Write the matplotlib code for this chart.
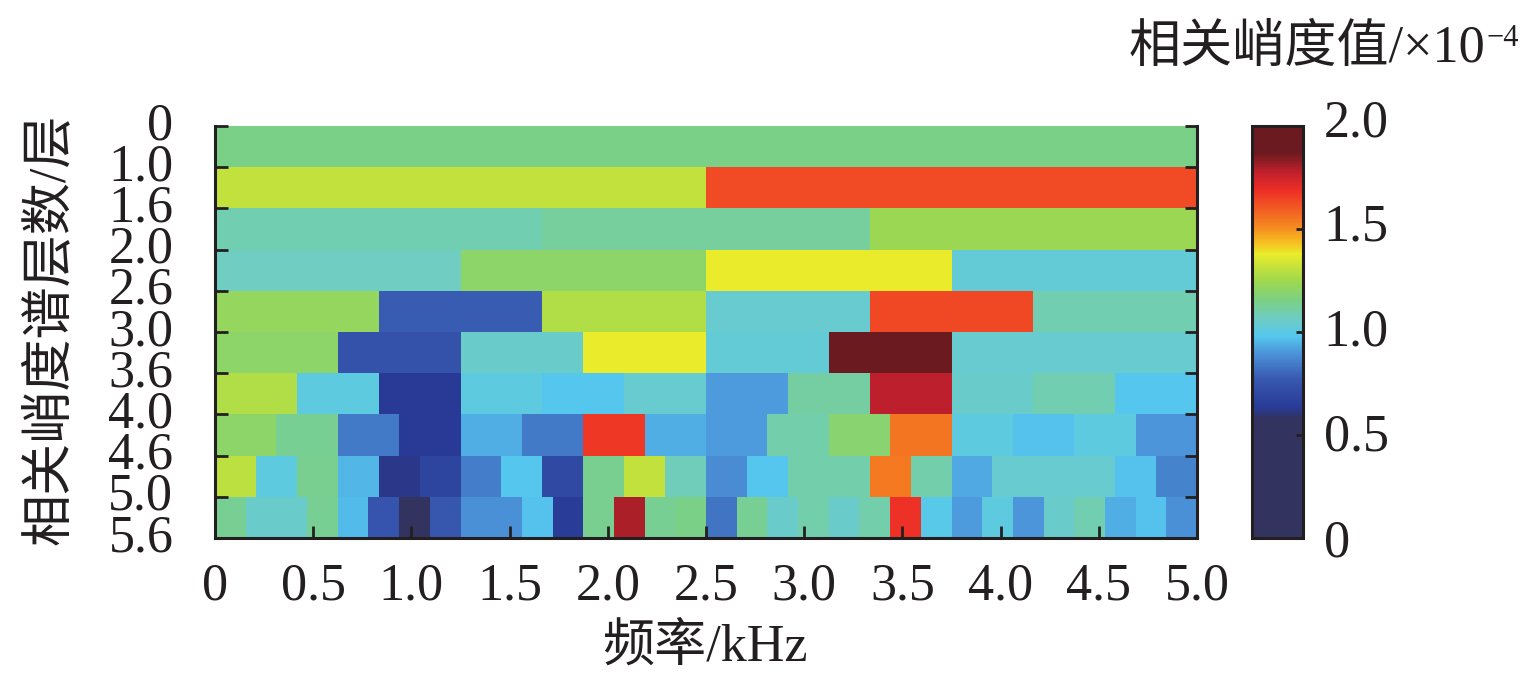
"""Kurtogram (相关峭度谱) with its colour bar, saved as out.png."""
import matplotlib
matplotlib.use("Agg")
import matplotlib.pyplot as plt
from matplotlib.colors import LinearSegmentedColormap
from matplotlib.transforms import ScaledTranslation
import numpy as np

plt.rcParams["font.family"] = ["Liberation Serif", "Noto Sans CJK SC"]

INK = "#231f20"
W, H = 1535, 680
FS = 37.5

LEVELS = ["0", "1.0", "1.6", "2.0", "2.6", "3.0", "3.6", "4.0", "4.6", "5.0", "5.6"]
FREQ_TICKS = [0, 0.5, 1.0, 1.5, 2.0, 2.5, 3.0, 3.5, 4.0, 4.5, 5.0]
FREQ_LABELS = ["0", "0.5", "1.0", "1.5", "2.0", "2.5", "3.0", "3.5", "4.0", "4.5", "5.0"]
CBAR_TICKS = [0, 0.5, 1.0, 1.5, 2.0]
CBAR_LABELS = ["0", "0.5", "1.0", "1.5", "2.0"]
CBAR_LIFT_PX = [0, 3, 5, 7, 8]  # labels sit a bit above their ticks in the original

# one list per level, top to bottom
ROW_0 = [1.15]
ROW_1 = [1.31, 1.63]
ROW_2 = [1.09, 1.12, 1.24]
ROW_3 = [1.07, 1.20, 1.38, 1.03]
ROW_4 = [1.22, 0.78, 1.28, 1.04, 1.64, 1.09]
ROW_5 = [1.20, 0.74, 1.05, 1.38, 1.03, 1.90, 1.04, 1.04]
ROW_6 = [1.28, 1.01, 0.63, 1.01, 0.98, 1.04, 0.91, 1.11, 1.78, 1.05, 1.09, 0.98]
ROW_7 = [1.20, 1.13, 0.84, 0.63, 0.94, 0.84, 1.67, 0.94,
         0.91, 1.10, 1.19, 1.55, 1.01, 0.97, 1.01, 0.90]
ROW_8 = [1.30, 1.01, 1.14, 0.95, 0.62, 0.68, 0.85, 0.98, 0.70, 1.14, 1.31, 1.08,
         0.88, 0.98, 1.10, 1.10, 1.54, 1.10, 0.93, 1.04, 1.04, 1.04, 0.97, 0.86]
ROW_9 = [1.13, 1.05, 1.05, 1.13, 0.96, 0.75, 0.55, 0.76, 0.89, 0.89, 0.97, 0.64,
         1.14, 1.80, 1.13, 1.15, 0.83, 1.13, 1.05, 1.10, 1.05, 1.10, 1.68, 0.99,
         0.91, 1.01, 0.90, 1.05, 1.09, 0.94, 0.97, 0.89]
ROWS = [ROW_0, ROW_1, ROW_2, ROW_3, ROW_4, ROW_5, ROW_6, ROW_7, ROW_8, ROW_9]

CMAP_VALUES = [0, 0.58, 0.63, 0.77, 0.90, 0.98, 1.07, 1.155, 1.25, 1.38, 1.43, 1.51, 1.69, 1.78, 1.87, 2.0]
CMAP_COLORS = ["#33335f", "#33335f", "#283a96", "#3858b0", "#4c95da", "#55c8ee", "#6fcdc0",
               "#7bd083", "#a0d84e", "#eaec2a", "#f6c322", "#f58a20", "#ee2d26",
               "#be202c", "#6b1a1f", "#6b1a1f"]
cmap = LinearSegmentedColormap.from_list(
    "kurt", [(v / 2.0, c) for v, c in zip(CMAP_VALUES, CMAP_COLORS)], N=512)


def px_axes(fig, x0, x1, y0, y1):
    return fig.add_axes([x0 / W, 1 - y1 / H, (x1 - x0) / W, (y1 - y0) / H])


fig = plt.figure(figsize=(W / 100, H / 100), dpi=100)
ax = px_axes(fig, 215, 1197, 126, 538)

for i, row in enumerate(ROWS):
    edges = np.linspace(0, 5, len(row) + 1)
    mesh = ax.pcolormesh(edges, [i, i + 1], np.array([row]), cmap=cmap,
                         vmin=0, vmax=2, linewidth=0, rasterized=True)

ax.set_xlim(0, 5)
ax.set_ylim(10, 0)
ax.set_yticks(range(len(LEVELS)), LEVELS)
ax.set_xticks(FREQ_TICKS, FREQ_LABELS)
ax.tick_params(axis="both", direction="in", length=9, width=2, color=INK,
               labelsize=FS, labelcolor=INK, left=True, right=True, bottom=True, top=False)
ax.tick_params(axis="y", pad=30)
ax.tick_params(axis="x", pad=18)
for lab in ax.get_yticklabels():
    lab.set_verticalalignment("center")
ax.spines["top"].set_visible(False)
for side in ["left", "right", "bottom"]:
    ax.spines[side].set_linewidth(2.2)
    ax.spines[side].set_color(INK)

cax = px_axes(fig, 1252, 1303, 126, 538)
cb = fig.colorbar(mesh, cax=cax)
cb.set_ticks(CBAR_TICKS, labels=CBAR_LABELS)
cax.tick_params(axis="y", direction="in", length=5, width=2, color=INK,
                labelsize=FS, labelcolor=INK, pad=15)
cb.outline.set_linewidth(2.2)
cb.outline.set_edgecolor(INK)
for lab, lift in zip(cax.get_yticklabels(), CBAR_LIFT_PX):
    lab.set_transform(lab.get_transform() + ScaledTranslation(0, lift / 100, fig.dpi_scale_trans))

fig.text(705 / W, 1 - 647 / H, "频率/kHz", fontsize=FS, color=INK, ha="center", va="center")
fig.text(50 / W, 1 - 329 / H, "相关峭度谱层数/层", fontsize=FS, color=INK,
         rotation=90, ha="center", va="center")
fig.text(1485 / W, 1 - 49 / H, "相关峭度值/×10", fontsize=FS, color=INK, ha="right", va="center")
fig.text(1486 / W, 1 - 38 / H, "−4", fontsize=22, color=INK, ha="left", va="center")

fig.savefig("out.png", dpi=100)
plt.close(fig)
